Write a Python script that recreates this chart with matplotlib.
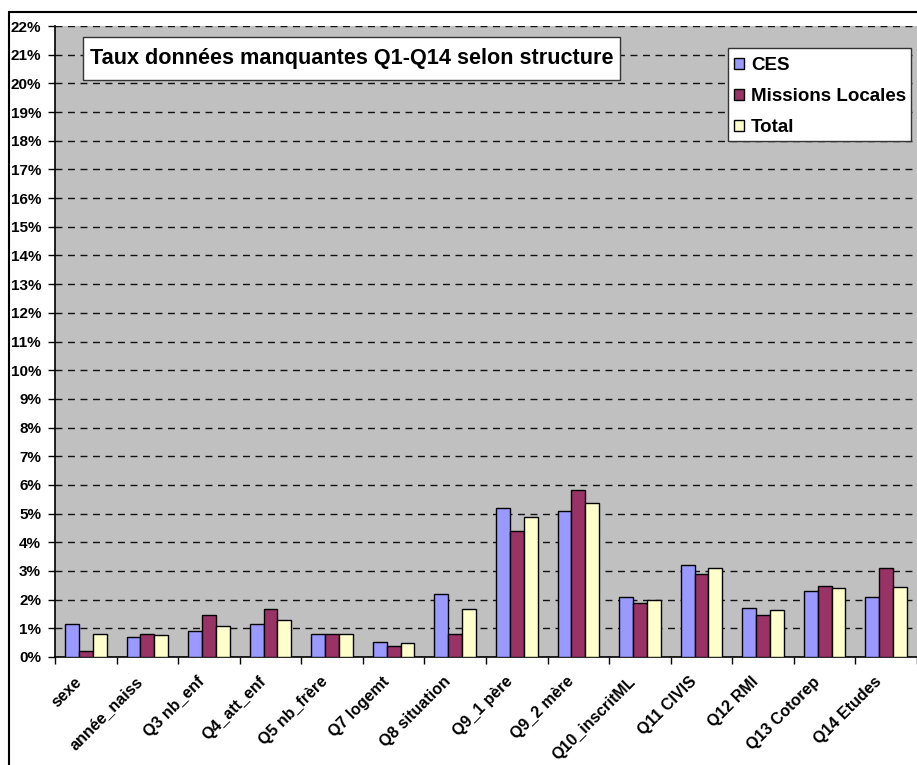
import numpy as np
import matplotlib
matplotlib.use("Agg")
import matplotlib.pyplot as plt
import matplotlib.patches as mpatches
import matplotlib.transforms as mtransforms

plt.rcParams['font.family'] = ['Liberation Sans', 'DejaVu Sans']

categories = ["sexe", "année_naiss", "Q3 nb_enf", "Q4_att_enf", "Q5 nb_frère",
              "Q7 logemt", "Q8 situation", "Q9_1 père", "Q9_2 mère",
              "Q10_inscritML", "Q11 CIVIS", "Q12 RMI", "Q13 Cotorep", "Q14 Etudes"]
ces = [1.15, 0.70, 0.90, 1.15, 0.80, 0.54, 2.19, 5.20, 5.09, 2.08, 3.20, 1.72, 2.29, 2.09]
missions = [0.20, 0.79, 1.45, 1.66, 0.80, 0.39, 0.80, 4.38, 5.81, 1.87, 2.90, 1.48, 2.49, 3.10]
total = [0.79, 0.75, 1.09, 1.30, 0.80, 0.49, 1.67, 4.88, 5.36, 1.99, 3.10, 1.63, 2.40, 2.44]
series_names = ["CES", "Missions Locales", "Total"]
colors = ["#9999FF", "#993366", "#FFFFCC"]
title = "Taux données manquantes Q1-Q14 selon structure"

W, H = 917, 765
fig = plt.figure(figsize=(W / 100, H / 100), dpi=100)

def fx(px):
    return px / W

def fy(py):
    return 1 - py / H

# outer chart frame (only left and top edges are visible in the crop)
fig.add_artist(mpatches.Rectangle((fx(9), -0.2), 1.5, fy(12) + 0.2, transform=fig.transFigure,
                                  fill=False, edgecolor="black", linewidth=1.5))

ax = fig.add_axes([fx(55), fy(657), 1 - fx(55), fy(26) - fy(657)])
ax.set_facecolor("#C0C0C0")

x = np.arange(len(categories))
w = 0.225
bars = []
for i, (vals, name, col) in enumerate(zip([ces, missions, total], series_names, colors)):
    b = ax.bar(x + (i - 1) * w, vals, width=w, color=col, edgecolor="black", linewidth=1.0,
               label=name, zorder=3)
    bars.append(b)

ax.set_xlim(-0.5, len(categories) - 0.5)
ax.set_ylim(0, 22)
ax.set_yticks(range(0, 23))
ax.set_yticklabels([f"{v}%" for v in range(0, 23)], fontsize=11, fontweight="bold")
ax.yaxis.grid(True, color="#111111", linestyle=(0, (5, 4)), linewidth=1, zorder=1)
ax.set_axisbelow(True)

# category labels drawn by hand so they can sit below the ticks like in the excel chart
ax.set_xticks([])
ax.set_xticks(np.arange(-0.5, len(categories), 1), minor=True)
ax.tick_params(axis="x", which="minor", length=5, width=1, direction="out", labelbottom=False)
ax.tick_params(axis="y", length=5, width=1, direction="out", pad=5)
base = ax.get_xaxis_transform()
offset = mtransforms.ScaledTranslation(-12 / 100, -17 / 100, fig.dpi_scale_trans)
for xi, lab in zip(x, categories):
    ax.text(xi, 0, lab, transform=base + offset, rotation=45, ha="right", va="top",
            rotation_mode="anchor", fontsize=11.5, fontweight="bold")

for s in ["top", "right"]:
    ax.spines[s].set_visible(False)
ax.spines["left"].set_linewidth(1.2)
ax.spines["bottom"].set_linewidth(1.2)

# title box
fig.add_artist(mpatches.Rectangle((fx(83), fy(80)), fx(620) - fx(83), fy(37) - fy(80),
                                  transform=fig.transFigure, facecolor="white",
                                  edgecolor="#333333", linewidth=1, zorder=5))
fig.text(fx(352), fy(58.5), title, ha="center", va="center", fontsize=15.6,
         fontweight="bold", zorder=6)

# legend box
fig.add_artist(mpatches.Rectangle((fx(728), fy(141)), fx(911) - fx(728), fy(48) - fy(141),
                                  transform=fig.transFigure, facecolor="white",
                                  edgecolor="#333333", linewidth=1, zorder=5))
leg = fig.legend(bars, series_names, loc="upper left", bbox_to_anchor=(fx(724), fy(47)),
                 bbox_transform=fig.transFigure, borderaxespad=0, frameon=False,
                 handlelength=0.5, handleheight=0.5, handletextpad=0.4, labelspacing=0.75,
                 borderpad=0.55, prop={"size": 13.5, "weight": "bold"})
leg.set_zorder(6)

fig.savefig("out.png", dpi=100)
